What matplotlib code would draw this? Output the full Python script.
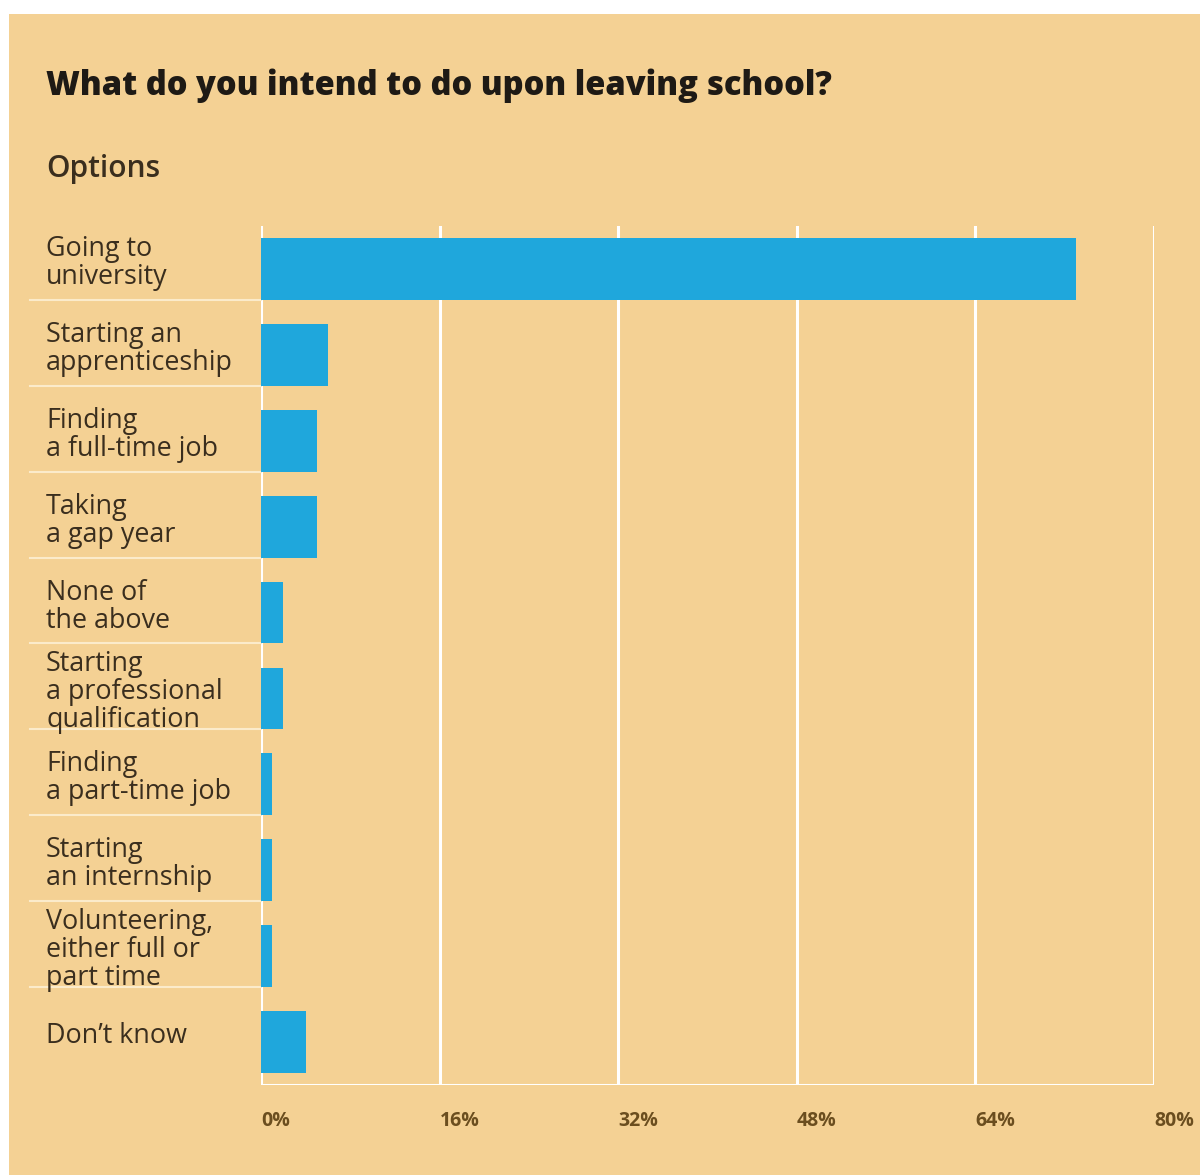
import matplotlib
matplotlib.use("Agg")
import matplotlib.pyplot as plt
from matplotlib.patches import Rectangle
from matplotlib.transforms import blended_transform_factory

# survey answers, top to bottom
options = [
    "Going to\nuniversity",
    "Starting an\napprenticeship",
    "Finding\na full-time job",
    "Taking\na gap year",
    "None of\nthe above",
    "Starting\na professional\nqualification",
    "Finding\na part-time job",
    "Starting\nan internship",
    "Volunteering,\neither full or\npart time",
    "Don\u2019t know",
]
shares = [73, 6, 5, 5, 2, 2, 1, 1, 1, 4]
ticks = [0, 16, 32, 48, 64, 80]
tick_labels = ["0%", "16%", "32%", "48%", "64%", "80%"]

bg = "#F4D194"
bar_col = "#1FA7DC"
txt_col = "#3A2E1E"
tick_col = "#6B4E1F"
font = ["Open Sans", "DejaVu Sans"]

W, H = 1200, 1175
fig = plt.figure(figsize=(W / 100, H / 100), dpi=100, facecolor="white")

# peach panel, white strip at top and left
fig.patches.append(Rectangle((9 / W, 0), 1 - 9 / W, 1 - 14 / H,
                             transform=fig.transFigure, facecolor=bg,
                             edgecolor="none", zorder=-10))

ax = fig.add_axes([261 / W, 1 - 1085 / H, (1154 - 261) / W, (1085 - 226) / H])
ax.set_facecolor("none")
for s in ax.spines.values():
    s.set_visible(False)

n = len(options)
ypos = list(range(n))
bar_h = 0.72
ax.barh(ypos, shares, height=bar_h, color=bar_col, zorder=3)
ax.set_xlim(0, 80)
ax.set_ylim(n - 0.5, -0.5)
ax.set_xticks([])
ax.set_yticks([])

# white grid + base line
for t in ticks:
    ax.axvline(t, color="white", lw=2.2, zorder=1)
ax.axhline(n - 0.5, color="white", lw=2.2, zorder=1)

# x tick labels, left-aligned on each gridline
tx = blended_transform_factory(ax.transData, fig.transFigure)
for t, lab in zip(ticks, tick_labels):
    ax.text(t, 1 - 1121 / H, lab, transform=tx, ha="left", va="center",
            fontsize=14, fontweight="bold", color=tick_col, family=font,
            clip_on=False)

# category labels, with a thin rule level with the bottom of each bar
ty = blended_transform_factory(fig.transFigure, ax.transData)
for i, lab in enumerate(options):
    ax.text(46 / W, i - 0.07, lab, transform=ty, ha="left", va="center",
            fontsize=19.4, color=txt_col, family=font, linespacing=1.0,
            clip_on=False)
    if i < n - 1:
        y_rule = i + bar_h / 2
        ax.plot([30 / W, 261 / W], [y_rule, y_rule], transform=ty,
                color="#FBEBCB", lw=1.5, clip_on=False, zorder=1)

fig.text(46 / W, 1 - 95 / H, "What do you intend to do upon leaving school?",
         ha="left", va="baseline", fontsize=23.5, fontweight=800,
         color="#1E1A15", family=font)
fig.text(46 / W, 1 - 177 / H, "Options", ha="left", va="baseline",
         fontsize=21.5, fontweight="semibold", color=txt_col, family=font)

fig.savefig("out.png", dpi=100, facecolor="white")
